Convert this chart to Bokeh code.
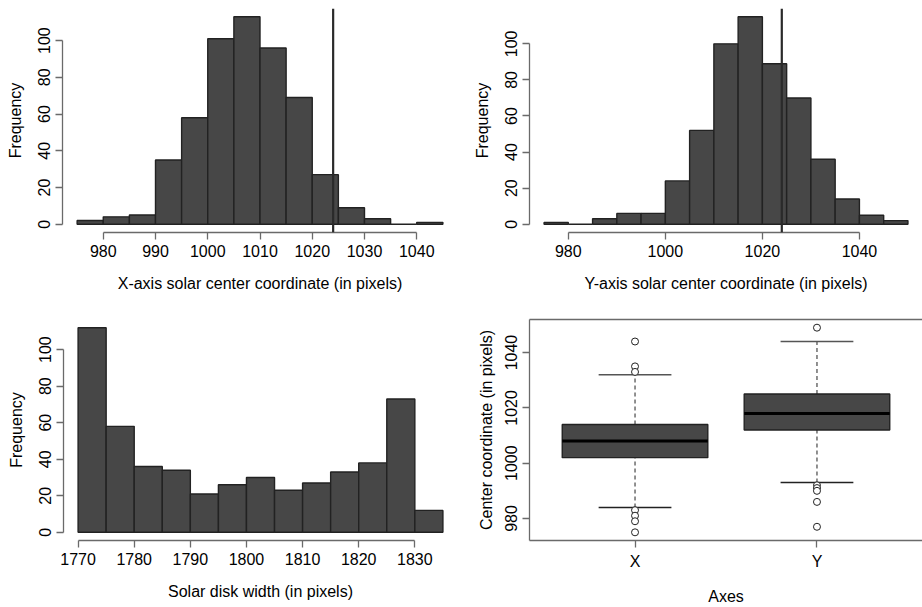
from bokeh.plotting import figure
from bokeh.layouts import column, row
from bokeh.models import Range1d, Span, FixedTicker, LinearAxis
from bokeh.embed import file_html
from bokeh.resources import INLINE

# ---------------- data ----------------
x_edges = [975, 980, 985, 990, 995, 1000, 1005, 1010, 1015, 1020, 1025, 1030, 1035, 1040, 1045]
x_counts = [2, 4, 5, 35, 58, 101, 113, 96, 69, 27, 9, 3, 0, 1]
x_ticks = [980, 990, 1000, 1010, 1020, 1030, 1040]

y_edges = [975, 980, 985, 990, 995, 1000, 1005, 1010, 1015, 1020, 1025, 1030, 1035, 1040, 1045, 1050]
y_counts = [1, 0, 3, 6, 6, 24, 52, 100, 115, 89, 70, 36, 14, 5, 2]
y_ticks = [980, 1000, 1020, 1040]

w_edges = [1770, 1775, 1780, 1785, 1790, 1795, 1800, 1805, 1810, 1815, 1820, 1825, 1830, 1835]
w_counts = [112, 58, 36, 34, 21, 26, 30, 23, 27, 33, 38, 73, 12]
w_ticks = [1770, 1780, 1790, 1800, 1810, 1820, 1830]

freq_ticks = [0, 20, 40, 60, 80, 100]
reference_line = 1024

box_categories = ["X", "Y"]
box_q1 = [1002, 1012]
box_median = [1008, 1018]
box_q3 = [1014, 1025]
box_lower = [984, 993]
box_upper = [1032, 1044]
outliers_x = [1044, 1035, 1033, 983, 981, 979, 975]
outliers_y = [1049, 992, 991, 990, 986, 977]
box_ticks = [980, 1000, 1020, 1040]

# ---------------- style ----------------
FONT = "Liberation Sans"
FS = "16px"
FILL = "#474747"
EDGE = "#222222"
AXIS = "#6a6a6a"


def style_axis(ax, label):
    ax.axis_label = label
    ax.axis_label_text_font = FONT
    ax.axis_label_text_font_size = FS
    ax.axis_label_text_font_style = "normal"
    ax.axis_label_text_color = "black"
    ax.major_label_text_font = FONT
    ax.major_label_text_font_size = FS
    ax.major_label_text_color = "black"
    ax.axis_line_color = AXIS
    ax.axis_line_width = 1.3
    ax.major_tick_line_color = AXIS
    ax.major_tick_line_width = 1.3
    ax.major_tick_out = 7
    ax.major_tick_in = 0
    ax.minor_tick_line_color = None


def make_fig(w, h, xr, yr, bl, br, bt, bb):
    p = figure(width=w, height=h, x_range=Range1d(*xr), y_range=Range1d(*yr),
               output_backend="svg", toolbar_location=None,
               min_border_left=bl, min_border_right=br,
               min_border_top=bt, min_border_bottom=bb)
    p.grid.visible = False
    p.outline_line_color = None
    p.background_fill_color = "white"
    p.border_fill_color = "white"
    return p


def ext(lo, hi):
    d = (hi - lo) * 0.04
    return (lo - d, hi + d)


def set_standoffs(xa, ya, ylab):
    xa.major_label_standoff = 5
    xa.axis_label_standoff = 15
    ya.major_label_standoff = 5
    ya.axis_label_standoff = ylab


def hist(w, h, edges, counts, xticks, xlabel, bl, br, bt, bb, vline=None):
    p = make_fig(w, h, ext(edges[0], edges[-1]), ext(0, max(counts)), bl, br, bt, bb)
    p.quad(left=edges[:-1], right=edges[1:], bottom=0, top=counts,
           fill_color=FILL, line_color=EDGE, line_width=1.4)
    if vline is not None:
        p.add_layout(Span(location=vline, dimension="height",
                          line_color="#2a2a2a", line_width=2.2))
    xa = p.xaxis[0]
    ya = p.yaxis[0]
    xa.ticker = FixedTicker(ticks=xticks)
    xa.bounds = (xticks[0], xticks[-1])
    ya.ticker = FixedTicker(ticks=freq_ticks)
    ya.bounds = (freq_ticks[0], freq_ticks[-1])
    ya.major_label_orientation = "vertical"
    style_axis(xa, xlabel)
    style_axis(ya, "Frequency")
    set_standoffs(xa, ya, 12)
    return p


p1 = hist(461, 300, x_edges, x_counts, x_ticks,
          "X-axis solar center coordinate (in pixels)", 62, 4, 8, 68, reference_line)
p2 = hist(461, 300, y_edges, y_counts, y_ticks,
          "Y-axis solar center coordinate (in pixels)", 68, 0, 8, 68, reference_line)
p3 = hist(461, 307, w_edges, w_counts, w_ticks,
          "Solar disk width (in pixels)", 63, 4, 18, 64)

# ---------------- boxplot ----------------
all_vals = box_lower + box_upper + outliers_x + outliers_y
p4 = make_fig(461, 307, ext(0.5, 2.5), ext(min(all_vals), max(all_vals)), 68, 0, 19, 64)
pos = [i + 1 for i in range(len(box_categories))]
p4.segment(x0=pos, x1=pos, y0=box_q3, y1=box_upper, line_color="#555555",
           line_width=1.3, line_dash="4 3")
p4.segment(x0=pos, x1=pos, y0=box_lower, y1=box_q1, line_color="#555555",
           line_width=1.3, line_dash="4 3")
p4.segment(x0=[q - 0.2 for q in pos], x1=[q + 0.2 for q in pos], y0=box_upper, y1=box_upper,
           line_color="#555555", line_width=1.5)
p4.segment(x0=[q - 0.2 for q in pos], x1=[q + 0.2 for q in pos], y0=box_lower, y1=box_lower,
           line_color="#222222", line_width=1.5)
p4.quad(left=[q - 0.4 for q in pos], right=[q + 0.4 for q in pos], bottom=box_q1, top=box_q3,
        fill_color=FILL, line_color=EDGE, line_width=1.4)
p4.segment(x0=[q - 0.4 for q in pos], x1=[q + 0.4 for q in pos], y0=box_median, y1=box_median,
           line_color="black", line_width=3)
p4.scatter(x=[pos[0]] * len(outliers_x), y=outliers_x, size=7, marker="circle",
           fill_color="white", line_color="#222222", line_width=1)
p4.scatter(x=[pos[1]] * len(outliers_y), y=outliers_y, size=7, marker="circle",
           fill_color="white", line_color="#222222", line_width=1)

bx = p4.xaxis[0]
by = p4.yaxis[0]
bx.ticker = FixedTicker(ticks=pos)
bx.major_label_overrides = {q: c for q, c in zip(pos, box_categories)}
by.ticker = FixedTicker(ticks=box_ticks)
by.major_label_orientation = "vertical"
style_axis(bx, "Axes")
style_axis(by, "Center coordinate (in pixels)")
set_standoffs(bx, by, 8)
top = LinearAxis(ticker=FixedTicker(ticks=[]), major_label_text_font_size="0px",
                 axis_line_color=AXIS, axis_line_width=1.3, major_tick_line_color=None,
                 minor_tick_line_color=None)
p4.add_layout(top, "above")

layout = column(row(p1, p2), row(p3, p4))
open("out.html", "w").write(file_html(layout, INLINE))
